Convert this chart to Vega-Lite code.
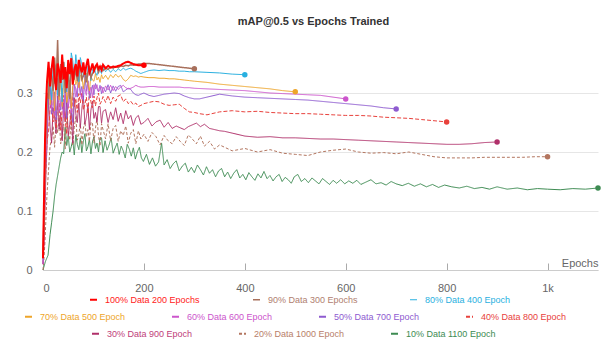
{
"$schema":"https://vega.github.io/schema/vega-lite/v6.json",
"width":555,"height":236,"autosize":"none",
"padding":{"left":43,"top":34,"right":3,"bottom":69},
"background":"white",
"title":{"text":"mAP@0.5 vs Epochs Trained","fontSize":11,"fontWeight":"bold","color":"#333333","anchor":"middle","frame":"group","dx":-7,"offset":7},
"datasets":{
"names":[{"k":"p100","name":"100% Data 200 Epochs"},{"k":"p90","name":"90% Data 300 Epochs"},{"k":"p80","name":"80% Data 400 Epoch"},{"k":"p70","name":"70% Data 500 Epoch"},{"k":"p60","name":"60% Data 600 Epoch"},{"k":"p50","name":"50% Data 700 Epoch"},{"k":"p40","name":"40% Data 800 Epoch"},{"k":"p30","name":"30% Data 900 Epoch"},{"k":"p20","name":"20% Data 1000 Epoch"},{"k":"p10","name":"10% Data 1100 Epoch"}],
"pts":[
{"k":"p10","e":0,"v":0},{"k":"p10","e":5,"v":0.015},{"k":"p10","e":10,"v":0.025},{"k":"p10","e":14,"v":0.06},{"k":"p10","e":17,"v":0.08},{"k":"p10","e":20,"v":0.1},{"k":"p10","e":23,"v":0.125},{"k":"p10","e":26,"v":0.145},{"k":"p10","e":29,"v":0.16},{"k":"p10","e":32,"v":0.175},{"k":"p10","e":35,"v":0.19},{"k":"p10","e":38,"v":0.2},{"k":"p10","e":41,"v":0.197},{"k":"p10","e":44,"v":0.242},{"k":"p10","e":47,"v":0.211},{"k":"p10","e":50,"v":0.227},{"k":"p10","e":53,"v":0.2},{"k":"p10","e":56,"v":0.209},{"k":"p10","e":59,"v":0.22},{"k":"p10","e":62,"v":0.195},{"k":"p10","e":65,"v":0.229},{"k":"p10","e":68,"v":0.213},{"k":"p10","e":71,"v":0.204},{"k":"p10","e":74,"v":0.224},{"k":"p10","e":77,"v":0.199},{"k":"p10","e":80,"v":0.218},{"k":"p10","e":83,"v":0.231},{"k":"p10","e":86,"v":0.202},{"k":"p10","e":89,"v":0.209},{"k":"p10","e":92,"v":0.222},{"k":"p10","e":95,"v":0.197},{"k":"p10","e":98,"v":0.217},{"k":"p10","e":101,"v":0.226},{"k":"p10","e":104,"v":0.206},{"k":"p10","e":107,"v":0.215},{"k":"p10","e":110,"v":0.2},{"k":"p10","e":113,"v":0.224},{"k":"p10","e":116,"v":0.224},{"k":"p10","e":119,"v":0.199},{"k":"p10","e":123,"v":0.219},{"k":"p10","e":127,"v":0.203},{"k":"p10","e":131,"v":0.212},{"k":"p10","e":135,"v":0.224},{"k":"p10","e":139,"v":0.198},{"k":"p10","e":143,"v":0.207},{"k":"p10","e":147,"v":0.215},{"k":"p10","e":151,"v":0.196},{"k":"p10","e":155,"v":0.21},{"k":"p10","e":159,"v":0.202},{"k":"p10","e":163,"v":0.19},{"k":"p10","e":167,"v":0.213},{"k":"p10","e":171,"v":0.205},{"k":"p10","e":175,"v":0.193},{"k":"p10","e":179,"v":0.207},{"k":"p10","e":183,"v":0.188},{"k":"p10","e":187,"v":0.2},{"k":"p10","e":191,"v":0.208},{"k":"p10","e":195,"v":0.19},{"k":"p10","e":199,"v":0.184},{"k":"p10","e":205,"v":0.196},{"k":"p10","e":211,"v":0.179},{"k":"p10","e":217,"v":0.19},{"k":"p10","e":223,"v":0.176},{"k":"p10","e":229,"v":0.183},{"k":"p10","e":235,"v":0.215},{"k":"p10","e":240,"v":0.178},{"k":"p10","e":246,"v":0.187},{"k":"p10","e":252,"v":0.172},{"k":"p10","e":258,"v":0.18},{"k":"p10","e":264,"v":0.185},{"k":"p10","e":270,"v":0.168},{"k":"p10","e":276,"v":0.176},{"k":"p10","e":282,"v":0.181},{"k":"p10","e":288,"v":0.166},{"k":"p10","e":294,"v":0.174},{"k":"p10","e":300,"v":0.165},{"k":"p10","e":306,"v":0.178},{"k":"p10","e":312,"v":0.17},{"k":"p10","e":318,"v":0.161},{"k":"p10","e":324,"v":0.175},{"k":"p10","e":330,"v":0.164},{"k":"p10","e":336,"v":0.17},{"k":"p10","e":342,"v":0.158},{"k":"p10","e":348,"v":0.168},{"k":"p10","e":354,"v":0.172},{"k":"p10","e":360,"v":0.158},{"k":"p10","e":366,"v":0.166},{"k":"p10","e":372,"v":0.155},{"k":"p10","e":378,"v":0.164},{"k":"p10","e":384,"v":0.17},{"k":"p10","e":390,"v":0.156},{"k":"p10","e":396,"v":0.162},{"k":"p10","e":402,"v":0.153},{"k":"p10","e":408,"v":0.165},{"k":"p10","e":414,"v":0.158},{"k":"p10","e":420,"v":0.152},{"k":"p10","e":426,"v":0.163},{"k":"p10","e":432,"v":0.156},{"k":"p10","e":438,"v":0.167},{"k":"p10","e":444,"v":0.155},{"k":"p10","e":450,"v":0.16},{"k":"p10","e":456,"v":0.151},{"k":"p10","e":462,"v":0.158},{"k":"p10","e":468,"v":0.162},{"k":"p10","e":474,"v":0.15},{"k":"p10","e":480,"v":0.157},{"k":"p10","e":486,"v":0.153},{"k":"p10","e":492,"v":0.147},{"k":"p10","e":498,"v":0.158},{"k":"p10","e":505,"v":0.162},{"k":"p10","e":512,"v":0.15},{"k":"p10","e":519,"v":0.155},{"k":"p10","e":526,"v":0.148},{"k":"p10","e":533,"v":0.156},{"k":"p10","e":540,"v":0.151},{"k":"p10","e":547,"v":0.146},{"k":"p10","e":554,"v":0.155},{"k":"p10","e":561,"v":0.15},{"k":"p10","e":568,"v":0.145},{"k":"p10","e":575,"v":0.152},{"k":"p10","e":582,"v":0.147},{"k":"p10","e":590,"v":0.153},{"k":"p10","e":598,"v":0.146},{"k":"p10","e":606,"v":0.151},{"k":"p10","e":614,"v":0.147},{"k":"p10","e":622,"v":0.152},{"k":"p10","e":630,"v":0.145},{"k":"p10","e":640,"v":0.149},{"k":"p10","e":650,"v":0.153},{"k":"p10","e":660,"v":0.146},{"k":"p10","e":670,"v":0.148},{"k":"p10","e":680,"v":0.144},{"k":"p10","e":690,"v":0.15},{"k":"p10","e":700,"v":0.146},{"k":"p10","e":712,"v":0.143},{"k":"p10","e":724,"v":0.147},{"k":"p10","e":736,"v":0.142},{"k":"p10","e":748,"v":0.146},{"k":"p10","e":760,"v":0.141},{"k":"p10","e":772,"v":0.145},{"k":"p10","e":784,"v":0.14},{"k":"p10","e":796,"v":0.144},{"k":"p10","e":810,"v":0.141},{"k":"p10","e":825,"v":0.139},{"k":"p10","e":840,"v":0.142},{"k":"p10","e":855,"v":0.138},{"k":"p10","e":870,"v":0.14},{"k":"p10","e":885,"v":0.137},{"k":"p10","e":900,"v":0.141},{"k":"p10","e":920,"v":0.137},{"k":"p10","e":940,"v":0.139},{"k":"p10","e":960,"v":0.136},{"k":"p10","e":980,"v":0.138},{"k":"p10","e":1000,"v":0.137},{"k":"p10","e":1025,"v":0.136},{"k":"p10","e":1050,"v":0.138},{"k":"p10","e":1075,"v":0.137},{"k":"p10","e":1100,"v":0.139},
{"k":"p20","e":0,"v":0},{"k":"p20","e":2,"v":0.02},{"k":"p20","e":4,"v":0.05},{"k":"p20","e":6,"v":0.09},{"k":"p20","e":8,"v":0.13},{"k":"p20","e":11,"v":0.17},{"k":"p20","e":14,"v":0.21},{"k":"p20","e":17,"v":0.223},{"k":"p20","e":20,"v":0.244},{"k":"p20","e":23,"v":0.208},{"k":"p20","e":26,"v":0.256},{"k":"p20","e":29,"v":0.232},{"k":"p20","e":32,"v":0.259},{"k":"p20","e":35,"v":0.214},{"k":"p20","e":38,"v":0.229},{"k":"p20","e":41,"v":0.247},{"k":"p20","e":44,"v":0.205},{"k":"p20","e":47,"v":0.262},{"k":"p20","e":50,"v":0.235},{"k":"p20","e":53,"v":0.22},{"k":"p20","e":56,"v":0.253},{"k":"p20","e":59,"v":0.211},{"k":"p20","e":62,"v":0.242},{"k":"p20","e":65,"v":0.26},{"k":"p20","e":68,"v":0.22},{"k":"p20","e":71,"v":0.23},{"k":"p20","e":74,"v":0.248},{"k":"p20","e":77,"v":0.212},{"k":"p20","e":80,"v":0.24},{"k":"p20","e":83,"v":0.252},{"k":"p20","e":86,"v":0.225},{"k":"p20","e":89,"v":0.238},{"k":"p20","e":92,"v":0.218},{"k":"p20","e":95,"v":0.25},{"k":"p20","e":98,"v":0.25},{"k":"p20","e":101,"v":0.215},{"k":"p20","e":104,"v":0.24},{"k":"p20","e":107,"v":0.258},{"k":"p20","e":110,"v":0.228},{"k":"p20","e":113,"v":0.21},{"k":"p20","e":116,"v":0.248},{"k":"p20","e":119,"v":0.238},{"k":"p20","e":124,"v":0.222},{"k":"p20","e":129,"v":0.248},{"k":"p20","e":134,"v":0.219},{"k":"p20","e":139,"v":0.24},{"k":"p20","e":144,"v":0.245},{"k":"p20","e":149,"v":0.218},{"k":"p20","e":154,"v":0.236},{"k":"p20","e":159,"v":0.228},{"k":"p20","e":164,"v":0.244},{"k":"p20","e":169,"v":0.215},{"k":"p20","e":174,"v":0.232},{"k":"p20","e":179,"v":0.238},{"k":"p20","e":184,"v":0.214},{"k":"p20","e":189,"v":0.236},{"k":"p20","e":194,"v":0.222},{"k":"p20","e":200,"v":0.23},{"k":"p20","e":208,"v":0.218},{"k":"p20","e":216,"v":0.233},{"k":"p20","e":224,"v":0.226},{"k":"p20","e":232,"v":0.212},{"k":"p20","e":240,"v":0.228},{"k":"p20","e":248,"v":0.219},{"k":"p20","e":256,"v":0.214},{"k":"p20","e":264,"v":0.226},{"k":"p20","e":272,"v":0.218},{"k":"p20","e":280,"v":0.211},{"k":"p20","e":288,"v":0.229},{"k":"p20","e":296,"v":0.222},{"k":"p20","e":304,"v":0.214},{"k":"p20","e":312,"v":0.227},{"k":"p20","e":320,"v":0.21},{"k":"p20","e":330,"v":0.218},{"k":"p20","e":340,"v":0.205},{"k":"p20","e":350,"v":0.212},{"k":"p20","e":375,"v":0.202},{"k":"p20","e":400,"v":0.206},{"k":"p20","e":425,"v":0.2},{"k":"p20","e":450,"v":0.204},{"k":"p20","e":475,"v":0.198},{"k":"p20","e":500,"v":0.196},{"k":"p20","e":525,"v":0.194},{"k":"p20","e":550,"v":0.2},{"k":"p20","e":575,"v":0.203},{"k":"p20","e":600,"v":0.205},{"k":"p20","e":625,"v":0.2},{"k":"p20","e":650,"v":0.198},{"k":"p20","e":675,"v":0.199},{"k":"p20","e":700,"v":0.197},{"k":"p20","e":725,"v":0.2},{"k":"p20","e":750,"v":0.196},{"k":"p20","e":775,"v":0.192},{"k":"p20","e":800,"v":0.19},{"k":"p20","e":825,"v":0.19},{"k":"p20","e":850,"v":0.19},{"k":"p20","e":875,"v":0.191},{"k":"p20","e":900,"v":0.191},{"k":"p20","e":925,"v":0.191},{"k":"p20","e":950,"v":0.191},{"k":"p20","e":975,"v":0.192},{"k":"p20","e":1000,"v":0.192},
{"k":"p30","e":0,"v":0.01},{"k":"p30","e":2,"v":0.05},{"k":"p30","e":4,"v":0.11},{"k":"p30","e":6,"v":0.17},{"k":"p30","e":8,"v":0.21},{"k":"p30","e":11,"v":0.291},{"k":"p30","e":14,"v":0.243},{"k":"p30","e":17,"v":0.215},{"k":"p30","e":20,"v":0.275},{"k":"p30","e":23,"v":0.259},{"k":"p30","e":26,"v":0.231},{"k":"p30","e":29,"v":0.295},{"k":"p30","e":32,"v":0.239},{"k":"p30","e":35,"v":0.267},{"k":"p30","e":38,"v":0.219},{"k":"p30","e":41,"v":0.283},{"k":"p30","e":44,"v":0.251},{"k":"p30","e":47,"v":0.287},{"k":"p30","e":50,"v":0.227},{"k":"p30","e":53,"v":0.247},{"k":"p30","e":56,"v":0.271},{"k":"p30","e":59,"v":0.215},{"k":"p30","e":62,"v":0.292},{"k":"p30","e":65,"v":0.265},{"k":"p30","e":68,"v":0.25},{"k":"p30","e":71,"v":0.283},{"k":"p30","e":74,"v":0.241},{"k":"p30","e":77,"v":0.274},{"k":"p30","e":80,"v":0.295},{"k":"p30","e":83,"v":0.247},{"k":"p30","e":86,"v":0.259},{"k":"p30","e":89,"v":0.28},{"k":"p30","e":92,"v":0.238},{"k":"p30","e":95,"v":0.271},{"k":"p30","e":98,"v":0.286},{"k":"p30","e":101,"v":0.257},{"k":"p30","e":104,"v":0.267},{"k":"p30","e":107,"v":0.251},{"k":"p30","e":110,"v":0.277},{"k":"p30","e":113,"v":0.277},{"k":"p30","e":116,"v":0.249},{"k":"p30","e":119,"v":0.269},{"k":"p30","e":124,"v":0.272},{"k":"p30","e":129,"v":0.25},{"k":"p30","e":134,"v":0.268},{"k":"p30","e":139,"v":0.255},{"k":"p30","e":144,"v":0.275},{"k":"p30","e":149,"v":0.252},{"k":"p30","e":154,"v":0.266},{"k":"p30","e":159,"v":0.248},{"k":"p30","e":164,"v":0.27},{"k":"p30","e":169,"v":0.256},{"k":"p30","e":174,"v":0.262},{"k":"p30","e":179,"v":0.245},{"k":"p30","e":184,"v":0.258},{"k":"p30","e":189,"v":0.262},{"k":"p30","e":194,"v":0.247},{"k":"p30","e":200,"v":0.25},{"k":"p30","e":208,"v":0.257},{"k":"p30","e":216,"v":0.244},{"k":"p30","e":224,"v":0.251},{"k":"p30","e":232,"v":0.254},{"k":"p30","e":240,"v":0.242},{"k":"p30","e":248,"v":0.25},{"k":"p30","e":256,"v":0.24},{"k":"p30","e":264,"v":0.244},{"k":"p30","e":272,"v":0.241},{"k":"p30","e":280,"v":0.238},{"k":"p30","e":288,"v":0.243},{"k":"p30","e":296,"v":0.246},{"k":"p30","e":304,"v":0.249},{"k":"p30","e":312,"v":0.243},{"k":"p30","e":320,"v":0.247},{"k":"p30","e":330,"v":0.24},{"k":"p30","e":340,"v":0.238},{"k":"p30","e":350,"v":0.236},{"k":"p30","e":360,"v":0.235},{"k":"p30","e":375,"v":0.232},{"k":"p30","e":400,"v":0.227},{"k":"p30","e":425,"v":0.225},{"k":"p30","e":450,"v":0.226},{"k":"p30","e":475,"v":0.224},{"k":"p30","e":500,"v":0.224},{"k":"p30","e":525,"v":0.223},{"k":"p30","e":550,"v":0.222},{"k":"p30","e":575,"v":0.222},{"k":"p30","e":600,"v":0.221},{"k":"p30","e":625,"v":0.22},{"k":"p30","e":650,"v":0.219},{"k":"p30","e":675,"v":0.218},{"k":"p30","e":700,"v":0.217},{"k":"p30","e":725,"v":0.216},{"k":"p30","e":750,"v":0.215},{"k":"p30","e":775,"v":0.214},{"k":"p30","e":800,"v":0.213},{"k":"p30","e":825,"v":0.213},{"k":"p30","e":850,"v":0.214},{"k":"p30","e":875,"v":0.216},{"k":"p30","e":900,"v":0.217},
{"k":"p40","e":0,"v":0.01},{"k":"p40","e":2,"v":0.05},{"k":"p40","e":4,"v":0.12},{"k":"p40","e":6,"v":0.18},{"k":"p40","e":8,"v":0.22},{"k":"p40","e":11,"v":0.234},{"k":"p40","e":14,"v":0.272},{"k":"p40","e":17,"v":0.29},{"k":"p40","e":20,"v":0.251},{"k":"p40","e":23,"v":0.268},{"k":"p40","e":26,"v":0.24},{"k":"p40","e":29,"v":0.286},{"k":"p40","e":32,"v":0.286},{"k":"p40","e":35,"v":0.237},{"k":"p40","e":38,"v":0.272},{"k":"p40","e":41,"v":0.296},{"k":"p40","e":44,"v":0.254},{"k":"p40","e":47,"v":0.23},{"k":"p40","e":50,"v":0.282},{"k":"p40","e":53,"v":0.268},{"k":"p40","e":56,"v":0.244},{"k":"p40","e":59,"v":0.3},{"k":"p40","e":62,"v":0.277},{"k":"p40","e":65,"v":0.291},{"k":"p40","e":68,"v":0.267},{"k":"p40","e":71,"v":0.299},{"k":"p40","e":74,"v":0.283},{"k":"p40","e":77,"v":0.301},{"k":"p40","e":80,"v":0.271},{"k":"p40","e":83,"v":0.281},{"k":"p40","e":86,"v":0.293},{"k":"p40","e":89,"v":0.265},{"k":"p40","e":92,"v":0.303},{"k":"p40","e":95,"v":0.285},{"k":"p40","e":98,"v":0.275},{"k":"p40","e":101,"v":0.295},{"k":"p40","e":104,"v":0.278},{"k":"p40","e":107,"v":0.292},{"k":"p40","e":110,"v":0.3},{"k":"p40","e":113,"v":0.281},{"k":"p40","e":116,"v":0.286},{"k":"p40","e":119,"v":0.294},{"k":"p40","e":124,"v":0.284},{"k":"p40","e":129,"v":0.296},{"k":"p40","e":134,"v":0.282},{"k":"p40","e":139,"v":0.293},{"k":"p40","e":144,"v":0.286},{"k":"p40","e":149,"v":0.295},{"k":"p40","e":154,"v":0.297},{"k":"p40","e":159,"v":0.285},{"k":"p40","e":164,"v":0.29},{"k":"p40","e":169,"v":0.282},{"k":"p40","e":174,"v":0.286},{"k":"p40","e":179,"v":0.28},{"k":"p40","e":184,"v":0.283},{"k":"p40","e":189,"v":0.277},{"k":"p40","e":194,"v":0.279},{"k":"p40","e":200,"v":0.282},{"k":"p40","e":210,"v":0.284},{"k":"p40","e":220,"v":0.286},{"k":"p40","e":230,"v":0.285},{"k":"p40","e":240,"v":0.281},{"k":"p40","e":250,"v":0.279},{"k":"p40","e":260,"v":0.28},{"k":"p40","e":270,"v":0.281},{"k":"p40","e":280,"v":0.274},{"k":"p40","e":290,"v":0.268},{"k":"p40","e":300,"v":0.267},{"k":"p40","e":310,"v":0.265},{"k":"p40","e":325,"v":0.263},{"k":"p40","e":350,"v":0.268},{"k":"p40","e":375,"v":0.27},{"k":"p40","e":400,"v":0.268},{"k":"p40","e":425,"v":0.269},{"k":"p40","e":450,"v":0.267},{"k":"p40","e":475,"v":0.266},{"k":"p40","e":500,"v":0.265},{"k":"p40","e":525,"v":0.265},{"k":"p40","e":550,"v":0.264},{"k":"p40","e":575,"v":0.263},{"k":"p40","e":600,"v":0.262},{"k":"p40","e":625,"v":0.262},{"k":"p40","e":650,"v":0.261},{"k":"p40","e":675,"v":0.259},{"k":"p40","e":700,"v":0.258},{"k":"p40","e":725,"v":0.257},{"k":"p40","e":750,"v":0.255},{"k":"p40","e":775,"v":0.253},{"k":"p40","e":800,"v":0.251},
{"k":"p50","e":0,"v":0.01},{"k":"p50","e":2,"v":0.06},{"k":"p50","e":4,"v":0.14},{"k":"p50","e":6,"v":0.2},{"k":"p50","e":8,"v":0.24},{"k":"p50","e":11,"v":0.296},{"k":"p50","e":14,"v":0.32},{"k":"p50","e":17,"v":0.264},{"k":"p50","e":20,"v":0.278},{"k":"p50","e":23,"v":0.302},{"k":"p50","e":26,"v":0.254},{"k":"p50","e":29,"v":0.292},{"k":"p50","e":32,"v":0.31},{"k":"p50","e":35,"v":0.271},{"k":"p50","e":38,"v":0.288},{"k":"p50","e":41,"v":0.26},{"k":"p50","e":44,"v":0.306},{"k":"p50","e":47,"v":0.257},{"k":"p50","e":50,"v":0.292},{"k":"p50","e":53,"v":0.316},{"k":"p50","e":56,"v":0.274},{"k":"p50","e":59,"v":0.25},{"k":"p50","e":62,"v":0.315},{"k":"p50","e":65,"v":0.307},{"k":"p50","e":68,"v":0.293},{"k":"p50","e":71,"v":0.338},{"k":"p50","e":74,"v":0.297},{"k":"p50","e":77,"v":0.311},{"k":"p50","e":80,"v":0.287},{"k":"p50","e":83,"v":0.332},{"k":"p50","e":86,"v":0.303},{"k":"p50","e":89,"v":0.321},{"k":"p50","e":92,"v":0.291},{"k":"p50","e":95,"v":0.301},{"k":"p50","e":98,"v":0.313},{"k":"p50","e":101,"v":0.297},{"k":"p50","e":104,"v":0.316},{"k":"p50","e":107,"v":0.307},{"k":"p50","e":110,"v":0.302},{"k":"p50","e":113,"v":0.313},{"k":"p50","e":116,"v":0.299},{"k":"p50","e":119,"v":0.31},{"k":"p50","e":124,"v":0.302},{"k":"p50","e":129,"v":0.314},{"k":"p50","e":134,"v":0.3},{"k":"p50","e":139,"v":0.312},{"k":"p50","e":144,"v":0.303},{"k":"p50","e":149,"v":0.311},{"k":"p50","e":154,"v":0.313},{"k":"p50","e":159,"v":0.302},{"k":"p50","e":164,"v":0.305},{"k":"p50","e":169,"v":0.308},{"k":"p50","e":174,"v":0.306},{"k":"p50","e":179,"v":0.3},{"k":"p50","e":184,"v":0.297},{"k":"p50","e":189,"v":0.296},{"k":"p50","e":194,"v":0.298},{"k":"p50","e":200,"v":0.3},{"k":"p50","e":210,"v":0.296},{"k":"p50","e":220,"v":0.294},{"k":"p50","e":230,"v":0.296},{"k":"p50","e":240,"v":0.298},{"k":"p50","e":250,"v":0.299},{"k":"p50","e":260,"v":0.3},{"k":"p50","e":270,"v":0.299},{"k":"p50","e":280,"v":0.295},{"k":"p50","e":290,"v":0.292},{"k":"p50","e":300,"v":0.29},{"k":"p50","e":310,"v":0.29},{"k":"p50","e":325,"v":0.293},{"k":"p50","e":350,"v":0.298},{"k":"p50","e":375,"v":0.295},{"k":"p50","e":400,"v":0.293},{"k":"p50","e":425,"v":0.292},{"k":"p50","e":450,"v":0.291},{"k":"p50","e":475,"v":0.29},{"k":"p50","e":500,"v":0.289},{"k":"p50","e":525,"v":0.288},{"k":"p50","e":550,"v":0.286},{"k":"p50","e":575,"v":0.284},{"k":"p50","e":600,"v":0.282},{"k":"p50","e":625,"v":0.28},{"k":"p50","e":650,"v":0.278},{"k":"p50","e":675,"v":0.275},{"k":"p50","e":700,"v":0.273},
{"k":"p60","e":0,"v":0.01},{"k":"p60","e":2,"v":0.07},{"k":"p60","e":4,"v":0.15},{"k":"p60","e":6,"v":0.21},{"k":"p60","e":8,"v":0.25},{"k":"p60","e":11,"v":0.322},{"k":"p60","e":14,"v":0.29},{"k":"p60","e":17,"v":0.272},{"k":"p60","e":20,"v":0.311},{"k":"p60","e":23,"v":0.262},{"k":"p60","e":26,"v":0.3},{"k":"p60","e":29,"v":0.325},{"k":"p60","e":32,"v":0.269},{"k":"p60","e":35,"v":0.283},{"k":"p60","e":38,"v":0.308},{"k":"p60","e":41,"v":0.258},{"k":"p60","e":44,"v":0.297},{"k":"p60","e":47,"v":0.314},{"k":"p60","e":50,"v":0.276},{"k":"p60","e":53,"v":0.294},{"k":"p60","e":56,"v":0.266},{"k":"p60","e":59,"v":0.311},{"k":"p60","e":62,"v":0.314},{"k":"p60","e":65,"v":0.293},{"k":"p60","e":68,"v":0.308},{"k":"p60","e":71,"v":0.318},{"k":"p60","e":74,"v":0.3},{"k":"p60","e":77,"v":0.29},{"k":"p60","e":80,"v":0.312},{"k":"p60","e":83,"v":0.306},{"k":"p60","e":86,"v":0.296},{"k":"p60","e":89,"v":0.32},{"k":"p60","e":92,"v":0.299},{"k":"p60","e":95,"v":0.31},{"k":"p60","e":98,"v":0.292},{"k":"p60","e":101,"v":0.314},{"k":"p60","e":104,"v":0.307},{"k":"p60","e":107,"v":0.314},{"k":"p60","e":110,"v":0.302},{"k":"p60","e":113,"v":0.306},{"k":"p60","e":116,"v":0.311},{"k":"p60","e":119,"v":0.3},{"k":"p60","e":124,"v":0.312},{"k":"p60","e":129,"v":0.305},{"k":"p60","e":134,"v":0.313},{"k":"p60","e":139,"v":0.304},{"k":"p60","e":144,"v":0.311},{"k":"p60","e":149,"v":0.306},{"k":"p60","e":154,"v":0.31},{"k":"p60","e":159,"v":0.313},{"k":"p60","e":164,"v":0.309},{"k":"p60","e":169,"v":0.307},{"k":"p60","e":174,"v":0.308},{"k":"p60","e":179,"v":0.31},{"k":"p60","e":184,"v":0.313},{"k":"p60","e":189,"v":0.311},{"k":"p60","e":194,"v":0.31},{"k":"p60","e":200,"v":0.31},{"k":"p60","e":210,"v":0.311},{"k":"p60","e":220,"v":0.311},{"k":"p60","e":230,"v":0.31},{"k":"p60","e":240,"v":0.31},{"k":"p60","e":250,"v":0.31},{"k":"p60","e":260,"v":0.31},{"k":"p60","e":270,"v":0.31},{"k":"p60","e":280,"v":0.309},{"k":"p60","e":290,"v":0.309},{"k":"p60","e":300,"v":0.308},{"k":"p60","e":325,"v":0.307},{"k":"p60","e":350,"v":0.306},{"k":"p60","e":375,"v":0.305},{"k":"p60","e":400,"v":0.304},{"k":"p60","e":425,"v":0.302},{"k":"p60","e":450,"v":0.3},{"k":"p60","e":475,"v":0.299},{"k":"p60","e":500,"v":0.298},{"k":"p60","e":525,"v":0.297},{"k":"p60","e":550,"v":0.296},{"k":"p60","e":575,"v":0.293},{"k":"p60","e":600,"v":0.29},
{"k":"p70","e":0,"v":0.02},{"k":"p70","e":2,"v":0.08},{"k":"p70","e":4,"v":0.17},{"k":"p70","e":6,"v":0.23},{"k":"p70","e":8,"v":0.27},{"k":"p70","e":11,"v":0.333},{"k":"p70","e":14,"v":0.28},{"k":"p70","e":17,"v":0.298},{"k":"p70","e":20,"v":0.319},{"k":"p70","e":23,"v":0.27},{"k":"p70","e":26,"v":0.336},{"k":"p70","e":29,"v":0.305},{"k":"p70","e":32,"v":0.288},{"k":"p70","e":35,"v":0.326},{"k":"p70","e":38,"v":0.277},{"k":"p70","e":41,"v":0.316},{"k":"p70","e":44,"v":0.34},{"k":"p70","e":47,"v":0.284},{"k":"p70","e":50,"v":0.298},{"k":"p70","e":53,"v":0.322},{"k":"p70","e":56,"v":0.274},{"k":"p70","e":59,"v":0.312},{"k":"p70","e":62,"v":0.331},{"k":"p70","e":65,"v":0.314},{"k":"p70","e":68,"v":0.322},{"k":"p70","e":71,"v":0.309},{"k":"p70","e":74,"v":0.33},{"k":"p70","e":77,"v":0.33},{"k":"p70","e":80,"v":0.307},{"k":"p70","e":83,"v":0.323},{"k":"p70","e":86,"v":0.334},{"k":"p70","e":89,"v":0.315},{"k":"p70","e":92,"v":0.304},{"k":"p70","e":95,"v":0.328},{"k":"p70","e":98,"v":0.322},{"k":"p70","e":101,"v":0.32},{"k":"p70","e":104,"v":0.333},{"k":"p70","e":107,"v":0.322},{"k":"p70","e":110,"v":0.327},{"k":"p70","e":113,"v":0.318},{"k":"p70","e":116,"v":0.331},{"k":"p70","e":119,"v":0.324},{"k":"p70","e":124,"v":0.33},{"k":"p70","e":129,"v":0.323},{"k":"p70","e":134,"v":0.331},{"k":"p70","e":139,"v":0.326},{"k":"p70","e":144,"v":0.332},{"k":"p70","e":149,"v":0.327},{"k":"p70","e":154,"v":0.33},{"k":"p70","e":159,"v":0.323},{"k":"p70","e":164,"v":0.32},{"k":"p70","e":169,"v":0.324},{"k":"p70","e":174,"v":0.33},{"k":"p70","e":179,"v":0.328},{"k":"p70","e":184,"v":0.329},{"k":"p70","e":189,"v":0.327},{"k":"p70","e":194,"v":0.328},{"k":"p70","e":200,"v":0.327},{"k":"p70","e":210,"v":0.326},{"k":"p70","e":220,"v":0.326},{"k":"p70","e":230,"v":0.325},{"k":"p70","e":240,"v":0.325},{"k":"p70","e":250,"v":0.324},{"k":"p70","e":260,"v":0.324},{"k":"p70","e":270,"v":0.323},{"k":"p70","e":280,"v":0.322},{"k":"p70","e":290,"v":0.321},{"k":"p70","e":300,"v":0.32},{"k":"p70","e":325,"v":0.318},{"k":"p70","e":350,"v":0.315},{"k":"p70","e":375,"v":0.313},{"k":"p70","e":400,"v":0.311},{"k":"p70","e":425,"v":0.309},{"k":"p70","e":450,"v":0.307},{"k":"p70","e":475,"v":0.304},{"k":"p70","e":500,"v":0.302},
{"k":"p80","e":0,"v":0.02},{"k":"p80","e":2,"v":0.09},{"k":"p80","e":4,"v":0.18},{"k":"p80","e":6,"v":0.25},{"k":"p80","e":8,"v":0.28},{"k":"p80","e":11,"v":0.306},{"k":"p80","e":14,"v":0.33},{"k":"p80","e":17,"v":0.288},{"k":"p80","e":20,"v":0.344},{"k":"p80","e":23,"v":0.316},{"k":"p80","e":26,"v":0.348},{"k":"p80","e":29,"v":0.296},{"k":"p80","e":32,"v":0.313},{"k":"p80","e":35,"v":0.334},{"k":"p80","e":38,"v":0.285},{"k":"p80","e":41,"v":0.352},{"k":"p80","e":44,"v":0.32},{"k":"p80","e":47,"v":0.302},{"k":"p80","e":50,"v":0.341},{"k":"p80","e":53,"v":0.292},{"k":"p80","e":56,"v":0.368},{"k":"p80","e":59,"v":0.355},{"k":"p80","e":62,"v":0.324},{"k":"p80","e":65,"v":0.365},{"k":"p80","e":68,"v":0.344},{"k":"p80","e":71,"v":0.319},{"k":"p80","e":74,"v":0.36},{"k":"p80","e":77,"v":0.348},{"k":"p80","e":80,"v":0.328},{"k":"p80","e":83,"v":0.337},{"k":"p80","e":86,"v":0.322},{"k":"p80","e":89,"v":0.346},{"k":"p80","e":92,"v":0.346},{"k":"p80","e":95,"v":0.321},{"k":"p80","e":98,"v":0.339},{"k":"p80","e":101,"v":0.343},{"k":"p80","e":104,"v":0.335},{"k":"p80","e":107,"v":0.33},{"k":"p80","e":110,"v":0.34},{"k":"p80","e":113,"v":0.338},{"k":"p80","e":116,"v":0.333},{"k":"p80","e":119,"v":0.344},{"k":"p80","e":124,"v":0.336},{"k":"p80","e":129,"v":0.341},{"k":"p80","e":134,"v":0.335},{"k":"p80","e":139,"v":0.34},{"k":"p80","e":144,"v":0.336},{"k":"p80","e":149,"v":0.341},{"k":"p80","e":154,"v":0.338},{"k":"p80","e":159,"v":0.342},{"k":"p80","e":164,"v":0.339},{"k":"p80","e":169,"v":0.341},{"k":"p80","e":174,"v":0.342},{"k":"p80","e":179,"v":0.34},{"k":"p80","e":184,"v":0.337},{"k":"p80","e":189,"v":0.335},{"k":"p80","e":194,"v":0.333},{"k":"p80","e":200,"v":0.335},{"k":"p80","e":210,"v":0.338},{"k":"p80","e":220,"v":0.339},{"k":"p80","e":230,"v":0.338},{"k":"p80","e":240,"v":0.339},{"k":"p80","e":250,"v":0.338},{"k":"p80","e":260,"v":0.338},{"k":"p80","e":270,"v":0.337},{"k":"p80","e":280,"v":0.337},{"k":"p80","e":290,"v":0.336},{"k":"p80","e":300,"v":0.336},{"k":"p80","e":325,"v":0.335},{"k":"p80","e":350,"v":0.334},{"k":"p80","e":375,"v":0.332},{"k":"p80","e":400,"v":0.331},
{"k":"p90","e":0,"v":0.02},{"k":"p90","e":2,"v":0.1},{"k":"p90","e":4,"v":0.2},{"k":"p90","e":6,"v":0.26},{"k":"p90","e":8,"v":0.3},{"k":"p90","e":11,"v":0.29},{"k":"p90","e":14,"v":0.342},{"k":"p90","e":17,"v":0.328},{"k":"p90","e":20,"v":0.304},{"k":"p90","e":23,"v":0.36},{"k":"p90","e":26,"v":0.311},{"k":"p90","e":29,"v":0.39},{"k":"p90","e":32,"v":0.294},{"k":"p90","e":35,"v":0.349},{"k":"p90","e":38,"v":0.322},{"k":"p90","e":41,"v":0.353},{"k":"p90","e":44,"v":0.3},{"k":"p90","e":47,"v":0.318},{"k":"p90","e":50,"v":0.339},{"k":"p90","e":53,"v":0.29},{"k":"p90","e":56,"v":0.356},{"k":"p90","e":59,"v":0.325},{"k":"p90","e":62,"v":0.324},{"k":"p90","e":65,"v":0.341},{"k":"p90","e":68,"v":0.32},{"k":"p90","e":71,"v":0.336},{"k":"p90","e":74,"v":0.347},{"k":"p90","e":77,"v":0.323},{"k":"p90","e":80,"v":0.329},{"k":"p90","e":83,"v":0.34},{"k":"p90","e":86,"v":0.318},{"k":"p90","e":89,"v":0.335},{"k":"p90","e":92,"v":0.342},{"k":"p90","e":95,"v":0.326},{"k":"p90","e":98,"v":0.333},{"k":"p90","e":101,"v":0.336},{"k":"p90","e":104,"v":0.344},{"k":"p90","e":107,"v":0.344},{"k":"p90","e":110,"v":0.335},{"k":"p90","e":113,"v":0.341},{"k":"p90","e":116,"v":0.345},{"k":"p90","e":119,"v":0.338},{"k":"p90","e":124,"v":0.342},{"k":"p90","e":129,"v":0.34},{"k":"p90","e":134,"v":0.344},{"k":"p90","e":139,"v":0.342},{"k":"p90","e":144,"v":0.345},{"k":"p90","e":149,"v":0.343},{"k":"p90","e":154,"v":0.346},{"k":"p90","e":159,"v":0.345},{"k":"p90","e":164,"v":0.347},{"k":"p90","e":169,"v":0.346},{"k":"p90","e":174,"v":0.348},{"k":"p90","e":179,"v":0.347},{"k":"p90","e":184,"v":0.348},{"k":"p90","e":189,"v":0.349},{"k":"p90","e":194,"v":0.349},{"k":"p90","e":200,"v":0.35},{"k":"p90","e":210,"v":0.35},{"k":"p90","e":220,"v":0.349},{"k":"p90","e":230,"v":0.348},{"k":"p90","e":240,"v":0.347},{"k":"p90","e":250,"v":0.346},{"k":"p90","e":260,"v":0.345},{"k":"p90","e":270,"v":0.344},{"k":"p90","e":280,"v":0.343},{"k":"p90","e":290,"v":0.342},{"k":"p90","e":300,"v":0.341},
{"k":"p100","e":0,"v":0.02},{"k":"p100","e":2,"v":0.12},{"k":"p100","e":4,"v":0.22},{"k":"p100","e":6,"v":0.28},{"k":"p100","e":8,"v":0.32},{"k":"p100","e":11,"v":0.353},{"k":"p100","e":14,"v":0.311},{"k":"p100","e":17,"v":0.341},{"k":"p100","e":20,"v":0.362},{"k":"p100","e":23,"v":0.326},{"k":"p100","e":26,"v":0.305},{"k":"p100","e":29,"v":0.35},{"k":"p100","e":32,"v":0.338},{"k":"p100","e":35,"v":0.317},{"k":"p100","e":38,"v":0.365},{"k":"p100","e":41,"v":0.323},{"k":"p100","e":44,"v":0.344},{"k":"p100","e":47,"v":0.308},{"k":"p100","e":50,"v":0.356},{"k":"p100","e":53,"v":0.332},{"k":"p100","e":56,"v":0.359},{"k":"p100","e":59,"v":0.314},{"k":"p100","e":62,"v":0.34},{"k":"p100","e":65,"v":0.349},{"k":"p100","e":68,"v":0.328},{"k":"p100","e":71,"v":0.356},{"k":"p100","e":74,"v":0.343},{"k":"p100","e":77,"v":0.335},{"k":"p100","e":80,"v":0.352},{"k":"p100","e":83,"v":0.331},{"k":"p100","e":86,"v":0.347},{"k":"p100","e":89,"v":0.358},{"k":"p100","e":92,"v":0.334},{"k":"p100","e":95,"v":0.34},{"k":"p100","e":98,"v":0.35},{"k":"p100","e":101,"v":0.338},{"k":"p100","e":104,"v":0.345},{"k":"p100","e":107,"v":0.349},{"k":"p100","e":110,"v":0.341},{"k":"p100","e":113,"v":0.345},{"k":"p100","e":116,"v":0.339},{"k":"p100","e":119,"v":0.348},{"k":"p100","e":124,"v":0.342},{"k":"p100","e":129,"v":0.346},{"k":"p100","e":134,"v":0.343},{"k":"p100","e":139,"v":0.345},{"k":"p100","e":144,"v":0.344},{"k":"p100","e":149,"v":0.346},{"k":"p100","e":154,"v":0.347},{"k":"p100","e":159,"v":0.35},{"k":"p100","e":164,"v":0.352},{"k":"p100","e":169,"v":0.353},{"k":"p100","e":174,"v":0.351},{"k":"p100","e":179,"v":0.349},{"k":"p100","e":184,"v":0.348},{"k":"p100","e":189,"v":0.347},{"k":"p100","e":194,"v":0.347},{"k":"p100","e":200,"v":0.347}
]},
"data":{"name":"pts"},
"transform":[
{"lookup":"k","from":{"data":{"name":"names"},"key":"k","fields":["name"]}},
{"joinaggregate":[{"op":"max","field":"e","as":"emax"}],"groupby":["k"]}
],
"encoding":{
"x":{"field":"e","type":"quantitative","scale":{"domain":[0,1100],"nice":false,"zero":false},
"axis":{"values":[0,200,400,600,800,1000],"labelExpr":"datum.value >= 1000 ? (datum.value / 1000) + 'k' : datum.label","title":"Epochs","titleX":555,"titleY":-4,"titleAlign":"right","titleBaseline":"alphabetic","titleFontSize":11,"titleFontWeight":"normal","titleColor":"#666666","labelFontSize":11,"labelColor":"#666666","labelPadding":19,"tickSize":-7,"tickWidth":1,"tickColor":"#aaaaaa","domainColor":"#cccccc","grid":false}},
"y":{"field":"v","type":"quantitative","scale":{"domain":[0,0.4],"nice":false},
"axis":{"values":[0,0.1,0.2,0.3],"format":"~g","title":null,"grid":true,"gridColor":"#e6e6e6","domain":false,"ticks":false,"labelPadding":11,"labelFontSize":11,"labelColor":"#666666"}}
},
"layer":[
{"transform":[{"filter":{"field":"k","oneOf":["p30","p20","p10"]}}],
"encoding":{
"color":{"field":"name","type":"nominal","scale":{"domain":["30% Data 900 Epoch","20% Data 1000 Epoch","10% Data 1100 Epoch"],"range":["#b0306a","#b37660","#3d8b52"]},
"legend":{"orient":"none","legendX":48,"legendY":295,"direction":"horizontal","columns":3,"columnPadding":42,"title":null,
"encode":{"labels":{"update":{"fill":{"signal":"datum.value == '30% Data 900 Epoch' ? '#c0407a' : datum.value == '20% Data 1000 Epoch' ? '#b8806a' : '#3d8b52'"}}}}}},
"strokeDash":{"field":"name","type":"nominal","scale":{"domain":["30% Data 900 Epoch","20% Data 1000 Epoch","10% Data 1100 Epoch"],"range":[[1,0],[3,2],[1,0]]},
"legend":{"orient":"none","legendX":48,"legendY":295,"direction":"horizontal","columns":3,"columnPadding":42,"title":null}}
},
"layer":[
{"mark":{"type":"line","strokeWidth":1}},
{"transform":[{"filter":"datum.e === datum.emax"}],"mark":{"type":"point","filled":true,"size":30,"opacity":1}}
]},
{"transform":[{"filter":{"field":"k","oneOf":["p70","p60","p50","p40"]}}],
"encoding":{
"color":{"field":"name","type":"nominal","scale":{"domain":["70% Data 500 Epoch","60% Data 600 Epoch","50% Data 700 Epoch","40% Data 800 Epoch"],"range":["#eea52a","#cc55cc","#8e5bd0","#e8413c"]},
"legend":{"orient":"none","legendX":-19,"legendY":278,"direction":"horizontal","columns":4,"columnPadding":42,"title":null,
"encode":{"labels":{"update":{"fill":{"signal":"datum.value == '70% Data 500 Epoch' ? '#eea52a' : datum.value == '60% Data 600 Epoch' ? '#cc55cc' : datum.value == '50% Data 700 Epoch' ? '#8e5bd0' : '#e8413c'"}}}}}},
"strokeDash":{"field":"name","type":"nominal","scale":{"domain":["70% Data 500 Epoch","60% Data 600 Epoch","50% Data 700 Epoch","40% Data 800 Epoch"],"range":[[1,0],[1,0],[1,0],[4,2]]},
"legend":{"orient":"none","legendX":-19,"legendY":278,"direction":"horizontal","columns":4,"columnPadding":42,"title":null}}
},
"layer":[
{"mark":{"type":"line","strokeWidth":1}},
{"transform":[{"filter":"datum.e === datum.emax"}],"mark":{"type":"point","filled":true,"size":30,"opacity":1}}
]},
{"transform":[{"filter":{"field":"k","oneOf":["p100","p90","p80"]}}],
"encoding":{
"color":{"field":"name","type":"nominal","scale":{"domain":["100% Data 200 Epochs","90% Data 300 Epochs","80% Data 400 Epoch"],"range":["#ff0000","#a8705c","#29b0e0"]},
"legend":{"orient":"none","legendX":46,"legendY":261,"direction":"horizontal","columns":3,"columnPadding":50,"title":null,
"encode":{"labels":{"update":{"fill":{"signal":"datum.value == '100% Data 200 Epochs' ? '#ff2020' : datum.value == '90% Data 300 Epochs' ? '#b08070' : '#29b0e0'"}}}}}},
"strokeDash":{"field":"name","type":"nominal","scale":{"domain":["100% Data 200 Epochs","90% Data 300 Epochs","80% Data 400 Epoch"],"range":[[1,0],[1,0],[1,0]]},
"legend":{"orient":"none","legendX":46,"legendY":261,"direction":"horizontal","columns":3,"columnPadding":50,"title":null}},
"strokeWidth":{"field":"name","type":"nominal","scale":{"domain":["100% Data 200 Epochs","90% Data 300 Epochs","80% Data 400 Epoch"],"range":[2,1,1]},"legend":null}
},
"layer":[
{"mark":{"type":"line"}},
{"transform":[{"filter":"datum.e === datum.emax"}],"mark":{"type":"point","filled":true,"size":30,"opacity":1}}
]}
],
"resolve":{"scale":{"color":"independent","strokeDash":"independent","strokeWidth":"independent"}},
"config":{
"font":"Liberation Sans",
"view":{"stroke":null},
"legend":{"symbolType":"stroke","symbolSize":49,"symbolStrokeWidth":2,"labelFontSize":9,"labelFont":"Liberation Sans","labelOffset":7,"padding":0,"rowPadding":0,"labelLimit":300}
}
}
